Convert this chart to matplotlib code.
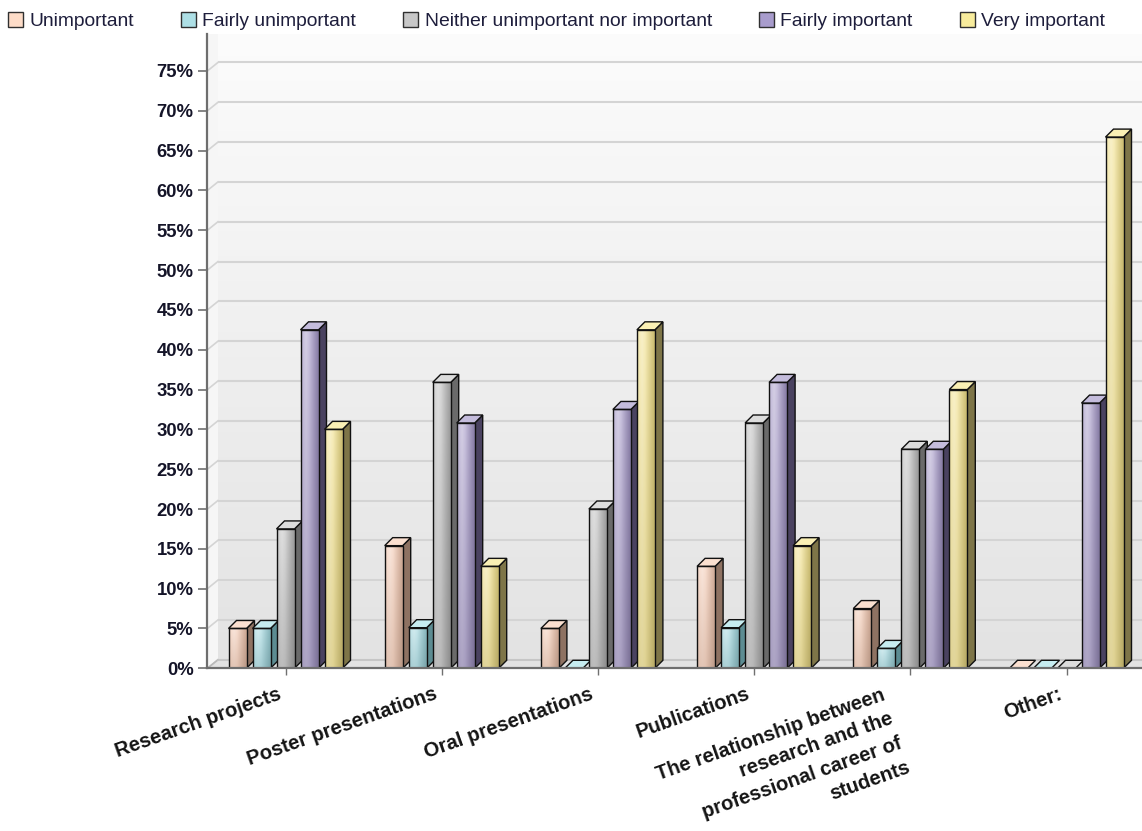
import numpy as np
import matplotlib
matplotlib.use("Agg")
import matplotlib.pyplot as plt
from matplotlib.patches import Polygon, Rectangle, Patch
from matplotlib.colors import to_rgb
import matplotlib.transforms as mtransforms

# ---- data -------------------------------------------------------------
categories = [
    "Research projects",
    "Poster presentations",
    "Oral presentations",
    "Publications",
    "The relationship between\nresearch and the\nprofessional career of\nstudents",
    "Other:",
]
series_names = [
    "Unimportant",
    "Fairly unimportant",
    "Neither unimportant nor important",
    "Fairly important",
    "Very important",
]
unimportant = [5.0, 15.4, 5.0, 12.8, 7.5, 0.0]
fairly_unimportant = [5.0, 5.1, 0.0, 5.1, 2.5, 0.0]
neither = [17.5, 35.9, 20.0, 30.8, 27.5, 0.0]
fairly_important = [42.5, 30.8, 32.5, 35.9, 27.5, 33.3]
very_important = [30.0, 12.8, 42.5, 15.4, 35.0, 66.7]
yticks = list(range(0, 80, 5))
ytick_labels = [f"{t}%" for t in yticks]

series_values = [unimportant, fairly_unimportant, neither, fairly_important, very_important]

# ---- styling ----------------------------------------------------------
front_colors = ["#F2C6AE", "#9ED6DE", "#B8B8B8", "#A093C4", "#F0DE84"]
side_colors = ["#8E7262", "#5C8C92", "#6A6A6A", "#4A4260", "#7E7548"]
top_colors = ["#FBE0D0", "#C6ECF0", "#DCDCDC", "#C4BCDC", "#FAF0B4"]
legend_colors = ["#FDDCC8", "#AEE0E6", "#C8C8C8", "#A89CCC", "#F8EC9C"]

plt.rcParams["font.family"] = ["Liberation Sans", "DejaVu Sans"]

W, H = 1142, 831
fig = plt.figure(figsize=(W / 100, H / 100), dpi=100)
fig.patch.set_facecolor("white")

# plot frame in pixels
left_px, right_px = 207.4, 1144.6
bottom_px, top_px = 668.3, 34.0
px_per_pct = 7.964
ymax = (bottom_px - top_px) / px_per_pct
ax = fig.add_axes([left_px / W, 1 - bottom_px / H,
                   (right_px - left_px) / W, (bottom_px - top_px) / H])
ax.set_xlim(-0.5, 5.5)
ax.set_ylim(0, ymax)
px_per_x = (right_px - left_px) / 6.0

# depth offsets
bar_dx, bar_dy = 8 / px_per_x, 8 / px_per_pct
wall_dx, wall_dy = 10.5 / px_per_x, 8.5 / px_per_pct
pitch = 24 / px_per_x
bar_w = 18 / px_per_x

ax.set_facecolor("white")
grid_c = "#D4D4D4"
x0, x1 = -0.5, 5.5

# back wall with vertical gradient
grad = np.linspace(0, 1, 256)[:, None]
wall_lo, wall_hi = np.array([0.89, 0.89, 0.89]), np.array([0.99, 0.99, 0.99])
wall_img = wall_lo + (wall_hi - wall_lo) * grad[..., None]
wall_img = np.repeat(wall_img, 2, axis=1)
ax.imshow(wall_img, extent=(x0 + wall_dx, x1 + 0.2, wall_dy, ymax + 2),
          origin="lower", aspect="auto", interpolation="bilinear", zorder=0)
# left side wall
ax.add_patch(Polygon([(x0, 0), (x0 + wall_dx, wall_dy), (x0 + wall_dx, ymax + 2),
                      (x0, ymax + 2)], closed=True, facecolor="#F6F6F6",
                     edgecolor="none", zorder=0.5))
# floor
ax.add_patch(Polygon([(x0, 0), (x1 + 0.2, 0), (x1 + 0.2, wall_dy),
                      (x0 + wall_dx, wall_dy)], closed=True, facecolor="#E2E2E2",
                     edgecolor="none", zorder=0.6))

for y in yticks:
    ax.plot([x0 + wall_dx, x1 + 0.2], [y + wall_dy, y + wall_dy], color=grid_c,
            lw=1.5, zorder=0.8, solid_capstyle="butt")
    ax.plot([x0, x0 + wall_dx], [y, y + wall_dy], color=grid_c, lw=1.2, zorder=0.8)
ax.plot([x0, x0 + wall_dx], [0, wall_dy], color="#B8B8B8", lw=1.2, zorder=0.9)
ax.plot([x0 + wall_dx, x1 + 0.2], [wall_dy, wall_dy], color="#C4C4C4", lw=1.2, zorder=0.9)


def front_image(base, n=48):
    base = np.array(to_rgb(base))
    u, v = np.meshgrid(np.linspace(0, 1, n), np.linspace(0, 1, n))
    hl = np.clip(1 - np.abs(u - 0.28) / 0.72, 0, 1)
    white = 0.55 * hl * (0.55 + 0.45 * v)
    dark = 0.16 * np.clip((u - 0.45) / 0.55, 0, 1) + 0.08 * (1 - v)
    img = base * (1 - white[..., None]) + white[..., None]
    img = img * (1 - dark[..., None])
    return np.clip(img, 0, 1)


edge_kw = dict(edgecolor="#111111", linewidth=1.0)
z = 2.0
for i in range(len(categories)):
    for k, vals in enumerate(series_values):
        h = vals[i]
        bx0 = i + (k - 2) * pitch - bar_w / 2
        bx1 = bx0 + bar_w
        if h > 0:
            ax.imshow(front_image(front_colors[k]), extent=(bx0, bx1, 0, h),
                      origin="lower", aspect="auto", interpolation="bilinear",
                      zorder=z)
            ax.add_patch(Rectangle((bx0, 0), bar_w, h, fill=False, zorder=z + 0.1,
                                   **edge_kw))
            ax.add_patch(Polygon([(bx1, 0), (bx1 + bar_dx, bar_dy),
                                  (bx1 + bar_dx, h + bar_dy), (bx1, h)], closed=True,
                                 facecolor=side_colors[k], zorder=z - 0.05, **edge_kw))
        ax.add_patch(Polygon([(bx0, h), (bx0 + bar_dx, h + bar_dy),
                              (bx1 + bar_dx, h + bar_dy), (bx1, h)], closed=True,
                             facecolor=top_colors[k], zorder=z + 0.05, **edge_kw))
        z += 0.2

ax.set_xlim(-0.5, 5.5)
ax.set_ylim(0, ymax)

# axes lines
for s in ["top", "right"]:
    ax.spines[s].set_visible(False)
for s in ["left", "bottom"]:
    ax.spines[s].set_color("#6E6E6E")
    ax.spines[s].set_linewidth(1.6)
    ax.spines[s].set_zorder(50)

ax.set_yticks(yticks)
ax.set_yticklabels(ytick_labels, fontsize=13.3, fontweight="bold", color="#141428")
ax.tick_params(axis="y", length=6.5, width=1.2, color="#707070", pad=3.4)
ax.set_xticks(range(len(categories)))
ax.set_xticklabels([""] * len(categories))
ax.tick_params(axis="x", length=5, width=1.0, color="#707070")

# category labels, rotated; multi-line labels are laid out line by line
angle = 19.5
line_step = 25.5
sin_a, cos_a = np.sin(np.radians(angle)), np.cos(np.radians(angle))
for i, lab in enumerate(categories):
    lines = lab.split("\n")
    multi = len(lines) > 1
    base_dx, base_dy = (-29.5, 17.0) if multi else (-8.5, 16.0)
    for n, line in enumerate(lines):
        dx_px = base_dx + n * line_step * sin_a
        dy_px = base_dy + n * line_step * cos_a
        tr = ax.get_xaxis_transform() + mtransforms.ScaledTranslation(
            dx_px / 100, -dy_px / 100, fig.dpi_scale_trans)
        ax.text(i, 0, line, transform=tr, rotation=angle, rotation_mode="anchor",
                ha="right", va="top", fontsize=14.5, fontweight="bold",
                color="#141414")

# legend
handles = [Patch(facecolor=c, edgecolor="#303030", linewidth=1.0) for c in legend_colors]
fig.legend(handles, series_names, loc="center left",
           bbox_to_anchor=(8 / W, 1 - 21 / H), ncol=5, frameon=False,
           fontsize=13.9, handlelength=0.78, handleheight=0.78, handletextpad=0.32,
           columnspacing=2.45, borderpad=0, borderaxespad=0, labelcolor="#1E1E3C")

fig.savefig("out.png", dpi=100, facecolor="white")
